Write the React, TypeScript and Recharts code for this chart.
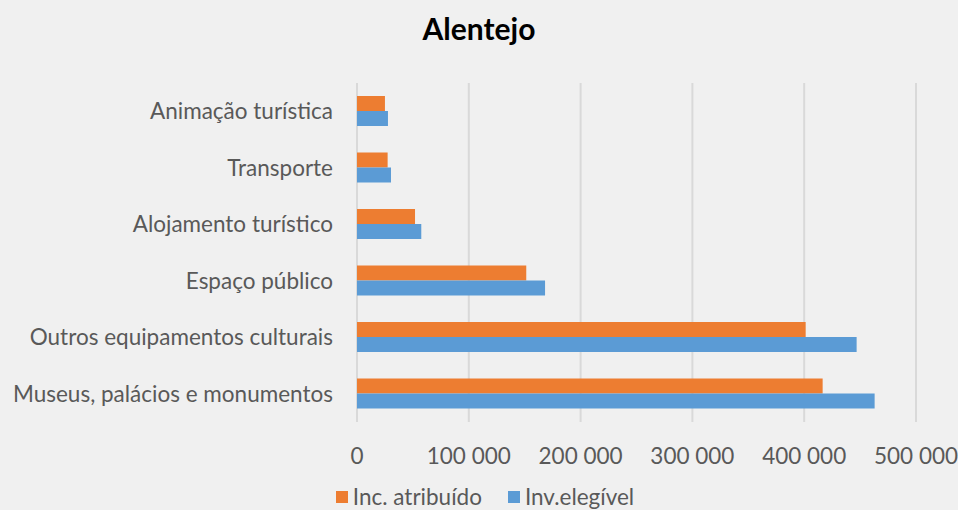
import React from "react";
import { BarChart, Bar, XAxis, YAxis, CartesianGrid } from "recharts";

const categories = [
  "Animação turística",
  "Transporte ",
  "Alojamento turístico",
  "Espaço público",
  "Outros equipamentos culturais",
  "Museus, palácios e monumentos",
];
const incAtribuido = [25000, 27400, 51900, 151400, 401300, 416500];
const invElegivel = [27700, 30400, 57500, 168200, 446900, 463000];
const xTicks = [0, 100000, 200000, 300000, 400000, 500000];

const SERIES = [
  { key: "inc", name: "Inc. atribuído", color: "#ED7D31" },
  { key: "inv", name: "Inv.elegível", color: "#5B9BD5" },
];

const data = categories.map((name, i) => ({
  name,
  inc: incAtribuido[i],
  inv: invElegivel[i],
}));

const FONT = "Lato, 'Open Sans', sans-serif";
const fmt = (v: number) =>
  v === 0 ? "0" : v.toLocaleString("en-US").replace(/,/g, " ");

const LegendContent = () => (
  <div
    style={{
      position: "absolute",
      top: 486,
      left: 0,
      width: 958,
      height: 22,
      display: "flex",
      justifyContent: "center",
      alignItems: "center",
      fontFamily: FONT,
      fontSize: 22.5,
      color: "#595959",
      paddingLeft: 12,
      boxSizing: "border-box",
      lineHeight: "22px",
    }}
  >
    {SERIES.map((s, i) => (
      <div
        key={s.key}
        style={{ display: "flex", alignItems: "center", marginLeft: i ? 26 : 0 }}
      >
        <span
          style={{ width: 12, height: 12, background: s.color, display: "inline-block", marginRight: 5 }}
        />
        <span>{s.name}</span>
      </div>
    ))}
  </div>
);

export default function App() {
  return (
    <div
      style={{
        position: "absolute",
        left: 0,
        top: 0,
        width: 958,
        height: 510,
        background: "#F0F0F0",
        fontFamily: FONT,
      }}
    >
      <div
        style={{
          position: "absolute",
          top: 10,
          left: 0,
          width: 958,
          textAlign: "center",
          fontSize: 30,
          fontWeight: 700,
          color: "#000",
          lineHeight: "36px",
        }}
      >
        Alentejo
      </div>
      <BarChart
        width={958}
        height={510}
        data={data}
        layout="vertical"
        margin={{ top: 83, right: 42, bottom: 0, left: 0 }}
        barGap={0}
        barSize={15}
      >
        <CartesianGrid horizontal={false} vertical={true} stroke="#D9D9D9" strokeWidth={2} />
        <XAxis
          type="number"
          domain={[0, 500000]}
          ticks={xTicks}
          tickFormatter={fmt}
          axisLine={false}
          tickLine={false}
          tickMargin={20}
          height={88}
          tick={{ fill: "#595959", fontSize: 22.5, fontFamily: FONT }}
          interval={0}
        />
        <YAxis
          type="category"
          dataKey="name"
          width={357}
          axisLine={false}
          tickLine={false}
          tickMargin={18}
          tick={{ fill: "#595959", fontSize: 22.5, fontFamily: FONT }}
          interval={0}
        />
        {SERIES.map((s) => (
          <Bar key={s.key} dataKey={s.key} name={s.name} fill={s.color} isAnimationActive={false} />
        ))}
      </BarChart>
      <LegendContent />
    </div>
  );
}
